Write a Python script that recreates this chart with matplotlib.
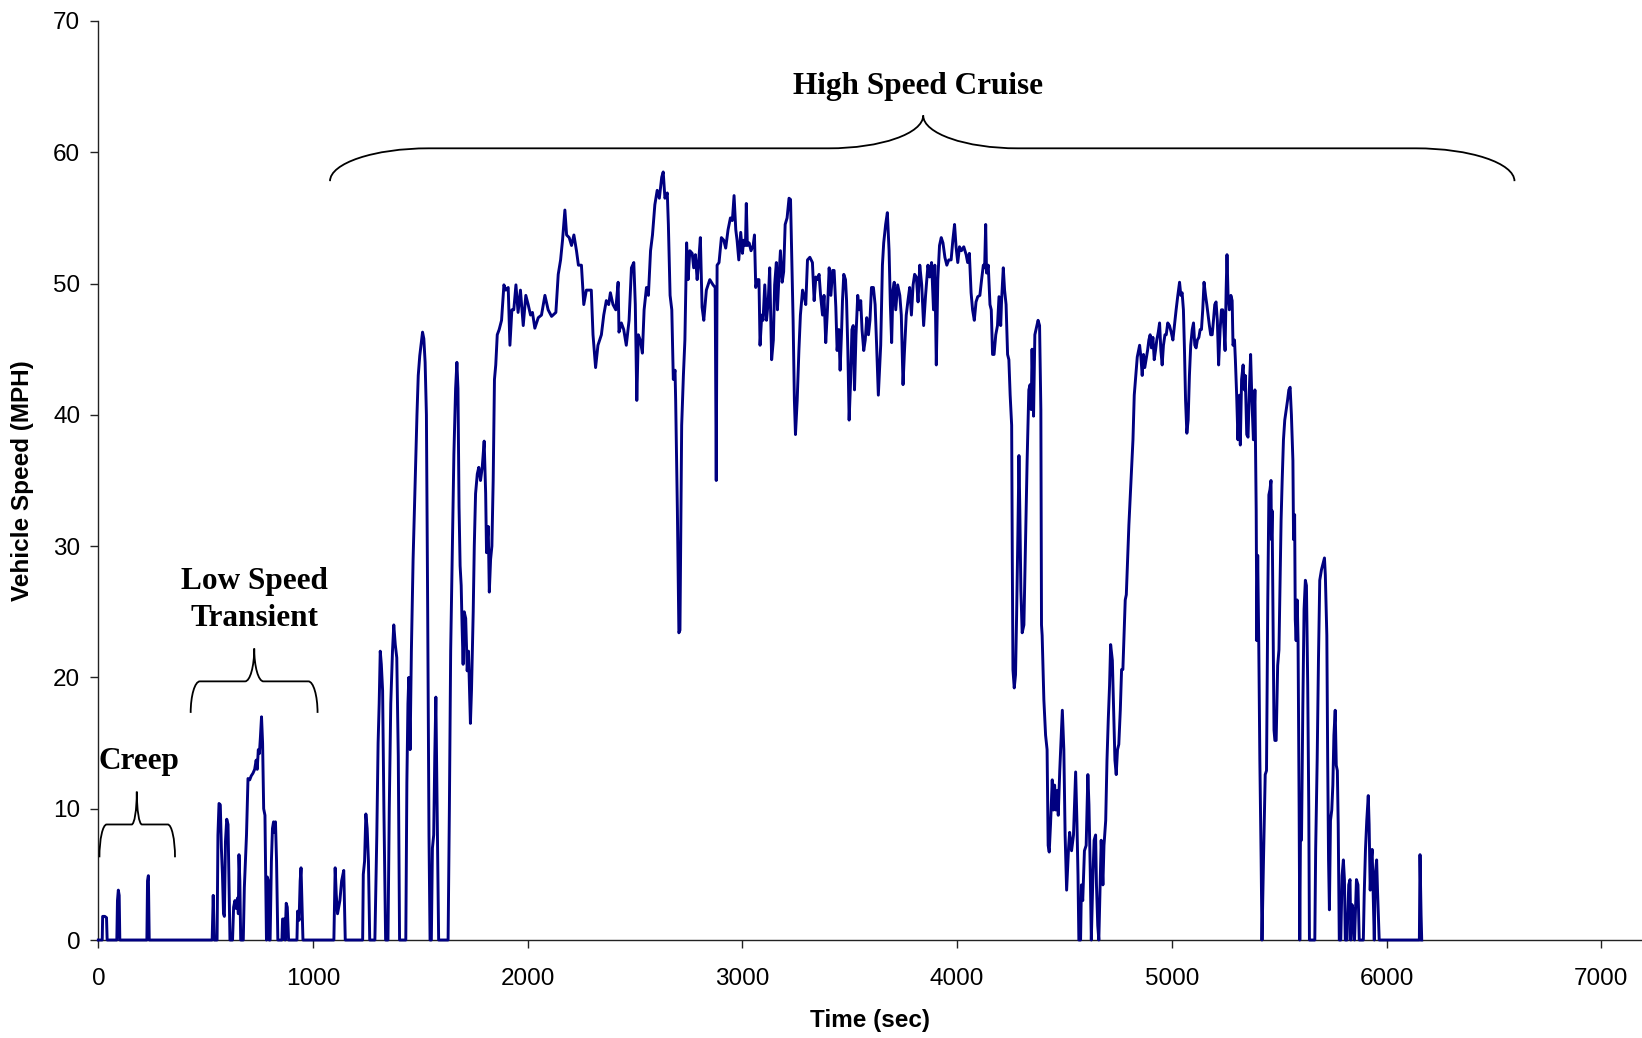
import matplotlib
matplotlib.use("Agg")
import matplotlib.pyplot as plt
from matplotlib.path import Path
from matplotlib.patches import PathPatch

# drive trace, split by phase (time in sec, speed in MPH)
creep_t = [0, 18, 20, 30, 38, 41, 86, 89, 93, 97, 100, 226, 229, 233, 237, 400]
creep_v = [0, 0, 1.8, 1.8, 1.7, 0, 0, 3.0, 3.8, 3.4, 0, 0, 4.5, 4.9, 0, 0]

low_t = [530, 535, 540, 553, 557, 562, 568, 573, 578, 583, 587, 592, 598, 604, 608, 613,
         625, 630, 636, 642, 648, 652, 655, 659, 663, 675, 680, 690, 697, 705, 712, 720,
         728, 735, 740, 745, 750, 755, 760, 765, 770, 776, 783, 787, 792, 796, 800, 806,
         811, 816, 820, 825, 830, 836, 855, 858, 866, 870, 875, 880, 886, 925, 928, 935,
         940, 944, 948, 953, 1080]
low_v = [0, 3.4, 0, 0, 8.0, 10.4, 10.3, 7.0, 5.0, 2.0, 1.8, 7.5, 9.2, 8.8, 5.0, 0,
         0, 2.5, 3.0, 2.4, 3.2, 2.0, 6.5, 4.5, 0, 0, 4.0, 8.0, 12.3, 12.2, 12.5, 12.7,
         13.0, 13.7, 13.0, 14.5, 14.2, 15.5, 17.0, 15.0, 10.0, 9.5, 0, 4.8, 4.5, 0, 0, 6.0,
         8.5, 9.0, 8.2, 9.0, 6.0, 0, 0, 1.6, 1.6, 0, 2.8, 2.5, 0, 0, 2.2, 1.5,
         4.5, 5.5, 3.0, 0, 0]

ramp_t = [1097, 1103, 1108, 1114, 1125, 1133, 1143, 1150, 1231, 1234, 1240, 1246, 1252,
          1258, 1264, 1288, 1297, 1303, 1308, 1313, 1318, 1324, 1330, 1338, 1349, 1355,
          1362, 1370, 1376, 1383, 1390, 1397, 1403, 1432, 1437, 1442, 1446, 1452, 1458,
          1466, 1476, 1484, 1490, 1497, 1504, 1510, 1516, 1522, 1528, 1534, 1540, 1545,
          1551, 1556, 1562, 1567, 1572, 1578, 1585, 1629, 1635, 1641, 1647, 1656, 1664,
          1670, 1675, 1680, 1685, 1690, 1694, 1699, 1704, 1711, 1718, 1724, 1733, 1738,
          1746, 1751, 1757, 1765, 1772, 1780, 1788, 1797, 1804, 1808, 1816, 1821, 1827,
          1833, 1839, 1845]
ramp_v = [0, 5.5, 3.5, 2.0, 3.0, 4.5, 5.3, 0, 0, 5.0, 6.0, 9.6, 8.5,
          6.0, 0, 0, 8.0, 15.0, 18.0, 22.0, 21.0, 19.0, 10.0, 0, 0, 10.0,
          18.0, 22.0, 24.0, 22.5, 21.5, 14.0, 0, 0, 12.0, 18.0, 20.0, 14.5, 22.0,
          29.0, 35.0, 40.0, 43.0, 44.5, 45.5, 46.3, 45.8, 44.0, 40.0, 25.0, 8.0, 0,
          0, 7.0, 8.0, 14.0, 18.5, 10.0, 0, 0, 10.0, 22.0, 28.0, 37.0, 42.0,
          44.0, 42.0, 33.0, 28.5, 27.0, 24.0, 21.0, 25.0, 24.5, 20.5, 22.0, 16.5, 19.0,
          25.0, 30.0, 34.0, 35.5, 36.0, 35.0, 36.0, 38.0, 34.0, 29.5, 31.5, 26.5, 29.0,
          30.0, 35.0, 42.7]

cruise_t = [1851, 1858, 1867, 1878, 1889, 1898, 1909, 1917, 1926, 1935, 1945, 1955, 1966,
            1979, 1991, 2002, 2013, 2022, 2033, 2049, 2064, 2080, 2095, 2111, 2131, 2142,
            2153, 2162, 2173, 2181, 2193, 2204, 2215, 2227, 2236, 2250, 2261, 2273, 2285,
            2296, 2304, 2316, 2327, 2343, 2354, 2366, 2377, 2385, 2397, 2410, 2421, 2425,
            2436, 2447, 2459, 2472, 2483, 2494, 2501, 2508, 2515, 2524, 2534, 2542, 2553,
            2562, 2572, 2581, 2592, 2603, 2613, 2624, 2631, 2639, 2650, 2655, 2663, 2671,
            2678, 2686, 2689, 2697, 2704, 2709, 2717, 2725, 2732, 2740, 2747, 2755, 2766,
            2773, 2781, 2789, 2795, 2804, 2812, 2820, 2832, 2848, 2863, 2873, 2878, 2882,
            2891, 2902, 2913, 2922, 2933, 2944, 2953, 2961, 2969, 2975, 2983, 2992, 3000,
            3006, 3014, 3018, 3023, 3031, 3040, 3050, 3056, 3062, 3070, 3077, 3082, 3090,
            3096, 3104, 3112, 3120, 3127, 3136, 3144, 3150, 3158, 3163, 3170, 3177, 3185,
            3192, 3199, 3208, 3217, 3224, 3230, 3236, 3242, 3247, 3255, 3263, 3270, 3280,
            3288, 3295, 3303, 3314, 3326, 3334, 3342, 3350, 3357, 3364, 3373, 3380, 3388,
            3396, 3404, 3412, 3420, 3427, 3435, 3441, 3449, 3455, 3462, 3466, 3472, 3480,
            3485, 3491, 3497, 3504, 3510, 3516, 3522, 3529, 3537, 3544, 3551, 3557, 3565,
            3572, 3579, 3587, 3594, 3601, 3610, 3618, 3625, 3633, 3644, 3652, 3658, 3667,
            3675, 3683, 3689, 3695, 3701, 3707, 3714, 3723, 3733, 3740, 3748, 3754, 3763,
            3771, 3779, 3787, 3795, 3802, 3810, 3818, 3826, 3835, 3844, 3853, 3864, 3872,
            3881, 3890, 3896, 3903, 3910, 3918, 3926, 3934, 3943, 3952, 3961, 3972, 3980,
            3988, 3995, 4003, 4011, 4020, 4031, 4042, 4049, 4057, 4065, 4072, 4080, 4088,
            4096, 4106, 4114, 4122, 4128, 4133, 4137, 4145, 4153, 4159, 4165, 4172, 4180,
            4188, 4195, 4203, 4207, 4215, 4221, 4228, 4235, 4241, 4247, 4254]
cruise_v = [43.8, 46.1, 46.5, 47.2, 49.9, 49.5, 49.7, 45.3, 48.0, 48.0, 49.9, 47.8, 49.5,
            46.8, 49.1, 48.4, 47.6, 47.8, 46.6, 47.4, 47.6, 49.1, 48.0, 47.5, 47.8, 50.7,
            51.8, 53.3, 55.6, 53.7, 53.5, 52.9, 53.7, 52.5, 51.4, 51.4, 48.4, 49.5, 49.5,
            49.5, 46.1, 43.6, 45.3, 46.1, 47.6, 48.7, 48.4, 49.3, 48.4, 48.0, 50.1, 46.3,
            47.0, 46.5, 45.3, 47.2, 51.2, 51.6, 48.4, 41.1, 46.1, 45.7, 44.7, 48.0, 49.7,
            49.1, 52.5, 53.7, 56.0, 57.1, 56.5, 58.1, 58.5, 56.5, 56.9, 54.5, 49.1, 48.0,
            42.7, 43.4, 41.1, 32.7, 23.4, 23.6, 39.2, 43.0, 45.7, 53.1, 50.3, 52.5, 52.3,
            51.2, 52.2, 50.3, 51.4, 53.5, 48.2, 47.2, 49.5, 50.3, 49.9, 49.7, 35.0, 51.4,
            51.6, 53.5, 53.3, 52.7, 54.1, 55.0, 54.8, 56.7, 54.1, 53.3, 51.8, 53.9, 52.3,
            53.3, 52.9, 56.1, 52.9, 53.1, 52.5, 52.9, 53.7, 49.7, 50.3, 50.3, 45.3, 47.6,
            47.2, 49.9, 47.2, 48.6, 51.2, 44.2, 45.7, 49.9, 51.6, 48.0, 50.5, 52.5, 50.1,
            50.9, 54.5, 55.0, 56.5, 56.4, 51.8, 47.2, 41.1, 38.5, 41.1, 44.9, 47.6, 49.5,
            49.0, 48.4, 51.8, 52.0, 51.6, 48.7, 50.5, 50.3, 50.7, 49.1, 47.6, 49.1, 45.5,
            48.0, 51.2, 49.1, 51.0, 51.0, 48.2, 44.9, 46.5, 43.4, 46.5, 48.7, 50.7, 50.3,
            48.7, 44.9, 39.6, 42.7, 46.5, 46.8, 41.9, 46.1, 49.1, 48.0, 48.7, 46.5, 44.9,
            45.7, 47.4, 46.1, 47.2, 49.7, 49.7, 48.4, 45.3, 41.5, 45.3, 51.4, 53.1, 54.5,
            55.4, 52.5, 48.4, 45.5, 49.5, 50.1, 48.0, 49.9, 49.1, 47.6, 42.3, 44.6, 47.6,
            48.7, 49.7, 47.6, 49.9, 50.7, 50.5, 48.6, 51.4, 49.9, 46.8, 49.1, 51.4, 50.5,
            51.6, 48.0, 51.4, 43.8, 50.3, 52.9, 53.5, 53.1, 52.0, 51.4, 51.8, 51.8, 53.3,
            54.5, 52.8, 51.6, 52.8, 52.5, 52.8, 52.2, 51.6, 52.3, 49.3, 48.0, 47.2, 48.6,
            49.0, 49.1, 50.3, 51.4, 51.2, 54.5, 50.8, 51.4, 48.4, 48.0, 44.6, 44.6, 46.1,
            46.8, 49.0, 46.8, 48.7, 51.2, 49.5, 48.4, 44.6, 44.2, 41.5, 39.2]

mid_t = [4257, 4260, 4266, 4272, 4277, 4283, 4288, 4292, 4297, 4303, 4311, 4319, 4326,
         4334, 4340, 4345, 4349, 4356, 4362, 4369, 4377, 4384, 4390, 4393, 4396, 4404,
         4412, 4419, 4424, 4429, 4435, 4443, 4448, 4454, 4460, 4467, 4471, 4478, 4484,
         4490, 4497, 4503, 4510, 4519, 4524, 4533, 4542, 4552, 4558, 4563, 4567, 4575,
         4579, 4585, 4593, 4601, 4609, 4614, 4620, 4625, 4632, 4638, 4645, 4649, 4655,
         4660, 4666, 4671, 4679, 4684, 4692, 4698, 4704, 4710, 4715, 4723, 4729, 4735,
         4741, 4747, 4753, 4760, 4766, 4772, 4778, 4783, 4788, 4794, 4800, 4806, 4812,
         4819, 4825, 4831, 4839, 4845, 4850, 4856, 4862, 4868, 4874, 4880, 4887, 4893,
         4899, 4905, 4912, 4918, 4924, 4930, 4937, 4943, 4949, 4955, 4961, 4968, 4974,
         4981, 4989, 4997, 5005, 5012, 5020, 5028, 5036, 5042, 5048, 5054, 5059, 5064,
         5070, 5076, 5082, 5088, 5095, 5101, 5107, 5113, 5119, 5126, 5132, 5138, 5144,
         5150, 5157, 5163, 5169, 5175, 5181, 5188, 5194, 5200, 5206, 5212, 5218, 5225,
         5231, 5237, 5243, 5248, 5253, 5257, 5262, 5268, 5275, 5281, 5285, 5292, 5296,
         5302, 5308, 5315, 5319, 5325, 5332, 5338, 5342, 5349, 5355, 5361, 5367, 5373]
mid_v = [28.9, 20.6, 19.2, 20.2, 24.7, 30.9, 36.9, 32.7, 26.6, 23.4, 24.0, 30.5, 36.5,
         41.9, 42.3, 40.4, 45.0, 39.9, 46.1, 46.6, 47.2, 46.8, 40.4, 24.0, 23.2, 18.3,
         15.6, 14.5, 7.2, 6.7, 8.8, 12.2, 9.9, 11.8, 9.9, 11.4, 9.5, 12.9, 15.2,
         17.5, 14.5, 8.0, 3.8, 7.0, 8.2, 6.8, 8.0, 12.8, 9.0, 4.9, 0, 0,
         4.2, 3.0, 6.8, 7.2, 12.6, 10.3, 5.3, 0, 4.6, 7.6, 8.0, 4.2, 1.1,
         0, 4.2, 7.6, 4.2, 7.2, 9.1, 13.7, 16.8, 19.4, 22.5, 21.3, 17.5, 13.7,
         12.6, 14.5, 14.9, 17.5, 20.6, 20.6, 23.6, 25.9, 26.3, 29.0, 31.6, 33.6, 35.5,
         38.1, 41.5, 42.7, 44.4, 44.9, 45.3, 44.4, 43.0, 44.6, 43.6, 44.2, 44.9, 45.7,
         46.1, 45.1, 45.9, 44.2, 44.9, 45.7, 46.3, 47.0, 44.9, 43.8, 45.3, 46.1, 46.1,
         47.0, 46.8, 46.3, 45.7, 46.8, 48.0, 49.1, 50.1, 49.1, 49.3, 48.0, 44.9, 41.1,
         38.6, 39.6, 43.0, 45.3, 46.5, 47.0, 45.3, 45.1, 45.7, 45.9, 46.5, 46.5, 48.0,
         50.1, 49.1, 48.4, 47.6, 46.8, 46.1, 46.1, 47.2, 48.4, 48.6, 47.2, 43.8, 46.5,
         48.0, 48.0, 46.5, 44.9, 49.5, 52.2, 49.1, 48.0, 49.1, 48.7, 45.3, 45.7, 44.2,
         41.5, 38.1, 41.5, 37.7, 42.7, 43.8, 41.9, 43.0, 38.5, 38.3, 41.9, 44.6, 41.1]

end_t = [5380, 5387, 5393, 5396, 5400, 5405, 5410, 5416, 5420, 5427, 5435, 5441, 5447,
         5452, 5457, 5462, 5464, 5467, 5471, 5476, 5480, 5486, 5493, 5499, 5505, 5509,
         5514, 5520, 5526, 5533, 5539, 5545, 5551, 5557, 5564, 5567, 5572, 5575, 5579,
         5584, 5588, 5593, 5596, 5599, 5604, 5610, 5616, 5622, 5627, 5633, 5638, 5641,
         5666, 5670, 5677, 5683, 5689, 5697, 5703, 5711, 5715, 5722, 5726, 5730, 5734,
         5739, 5745, 5750, 5755, 5761, 5766, 5771, 5775, 5780, 5787, 5793, 5799, 5804,
         5808, 5816, 5824, 5830, 5834, 5839, 5845, 5851, 5860, 5867, 5873, 5892, 5896,
         5902, 5908, 5915, 5919, 5924, 5929, 5933, 5938, 5943, 5947, 5954, 5958, 5966,
         6153, 6156, 6161, 6164]
end_v = [38.1, 41.9, 32.7, 22.8, 29.3, 22.5, 13.7, 6.1, 0, 6.1, 12.6, 12.9, 25.9,
         33.9, 34.3, 35.0, 30.5, 32.7, 25.2, 16.0, 15.2, 15.2, 20.9, 22.1, 27.8, 32.0,
         35.0, 38.1, 39.6, 40.4, 41.1, 41.9, 42.1, 40.0, 36.5, 30.5, 32.4, 24.4, 22.8,
         25.9, 22.8, 9.9, 0, 7.6, 7.6, 17.5, 25.2, 27.4, 27.0, 19.4, 9.9, 0,
         0, 6.9, 13.7, 21.3, 27.4, 28.2, 28.6, 29.1, 27.8, 23.2, 13.7, 6.1, 2.3,
         9.1, 9.9, 11.8, 15.6, 17.5, 13.3, 12.9, 8.8, 0, 0, 4.9, 6.1, 4.6,
         0, 0, 4.2, 4.6, 0, 2.7, 2.3, 0, 4.6, 4.2, 0, 0, 3.4,
         6.9, 9.1, 11.0, 8.8, 3.8, 6.1, 6.9, 3.4, 0, 4.9, 6.1, 3.8, 0,
         0, 6.5, 1.9, 0]

time_sec = creep_t + low_t + ramp_t + cruise_t + mid_t + end_t
speed_mph = creep_v + low_v + ramp_v + cruise_v + mid_v + end_v

SANS = ["Liberation Sans", "DejaVu Sans"]
SERIF = ["Liberation Serif", "DejaVu Serif"]


def brace(ax, x0, x1, xm, y_end, y_bar, y_tip, dx_end, dx_tip):
    # curly brace opening downward, tip pointing up at xm
    k = 0.55
    verts = [
        (x0, y_end),
        (x0, y_end + k * (y_bar - y_end)), (x0 + dx_end * (1 - k), y_bar), (x0 + dx_end, y_bar),
        (xm - dx_tip, y_bar),
        (xm - dx_tip * (1 - k), y_bar), (xm, y_tip - k * (y_tip - y_bar)), (xm, y_tip),
        (xm, y_tip - k * (y_tip - y_bar)), (xm + dx_tip * (1 - k), y_bar), (xm + dx_tip, y_bar),
        (x1 - dx_end, y_bar),
        (x1 - dx_end * (1 - k), y_bar), (x1, y_end + k * (y_bar - y_end)), (x1, y_end),
    ]
    codes = [Path.MOVETO, Path.CURVE4, Path.CURVE4, Path.CURVE4, Path.LINETO,
             Path.CURVE4, Path.CURVE4, Path.CURVE4,
             Path.CURVE4, Path.CURVE4, Path.CURVE4, Path.LINETO,
             Path.CURVE4, Path.CURVE4, Path.CURVE4]
    ax.add_patch(PathPatch(Path(verts, codes), fill=False, lw=1.3, ec="black",
                           clip_on=False, zorder=4))


fig = plt.figure(figsize=(16.42, 10.38), dpi=100)
ax = fig.add_axes([0.0599, 0.0944, 0.9401, 0.8854])

ax.plot(time_sec, speed_mph, color="#000080", lw=2.1, clip_on=False, zorder=3)

ax.set_xlim(0, 7190)
ax.set_ylim(0, 70)
ax.set_xticks(range(0, 7001, 1000))
ax.set_yticks(range(0, 71, 10))
for side in ["top", "right"]:
    ax.spines[side].set_visible(False)
for side in ["left", "bottom"]:
    ax.spines[side].set_linewidth(1.0)
    ax.spines[side].set_color("#222222")
ax.tick_params(direction="out", length=6, width=1.0, color="#222222", labelsize=17.5)
ax.tick_params(axis="x", pad=14)
ax.tick_params(axis="y", pad=7)
for lab in ax.get_xticklabels() + ax.get_yticklabels():
    lab.set_fontfamily(SANS)

fig.text(870 / 1642, 1 - 1020 / 1038, "Time (sec)", ha="center", va="center",
         fontsize=17.5, fontweight="bold", family=SANS)
fig.text(23 / 1642, 1 - 481 / 1038, "Vehicle Speed (MPH)", ha="center", va="center",
         rotation=90, fontsize=17.5, fontweight="bold", family=SANS)

# phase labels
brace(ax, 1079, 6596, 3842, 57.8, 60.3, 62.8, 460, 440)
ax.text(3816, 65.0, "High Speed Cruise", ha="center", va="center",
        fontsize=22.5, fontweight="bold", family=SERIF)

brace(ax, 430, 1021, 726, 17.3, 19.7, 22.2, 43, 43)
ax.text(726, 27.3, "Low Speed", ha="center", va="center",
        fontsize=22.5, fontweight="bold", family=SERIF)
ax.text(726, 24.5, "Transient", ha="center", va="center",
        fontsize=22.5, fontweight="bold", family=SERIF)

brace(ax, 5, 357, 179, 6.3, 8.8, 11.3, 34, 24)
ax.text(189, 13.6, "Creep", ha="center", va="center",
        fontsize=22.5, fontweight="bold", family=SERIF)

fig.savefig("out.png", dpi=100)
